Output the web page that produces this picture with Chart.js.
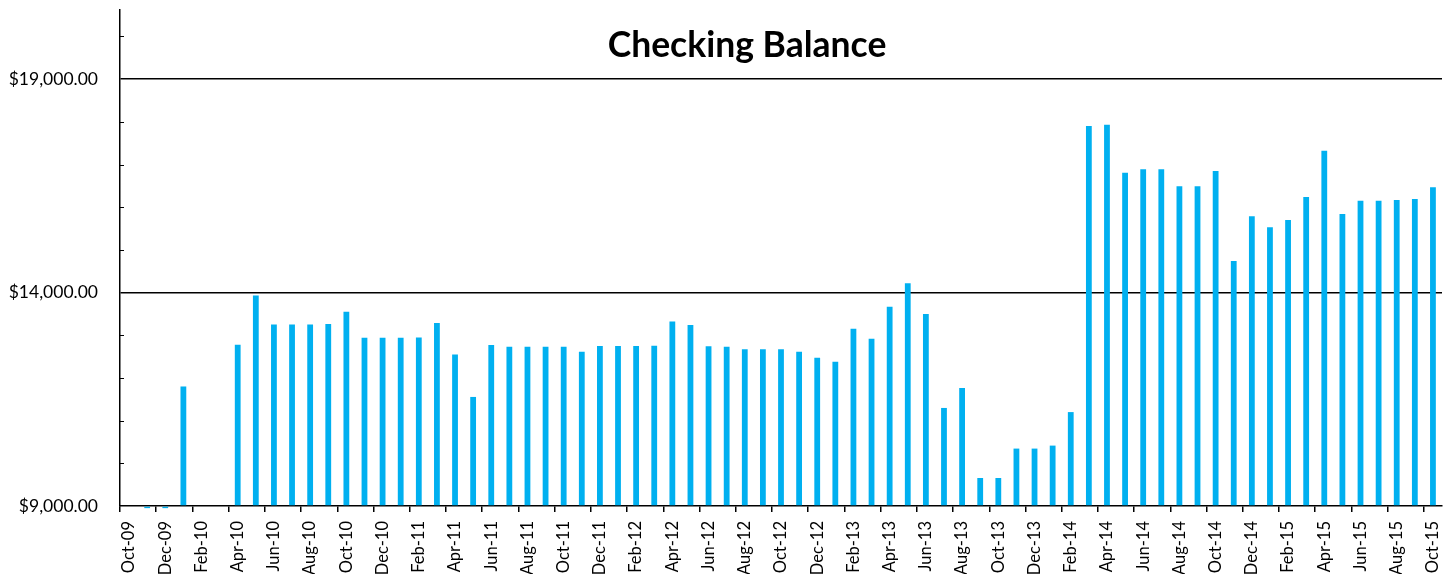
<!DOCTYPE html>
<html>
<head>
<meta charset="utf-8">
<script src="https://cdn.jsdelivr.net/npm/chart.js@4"></script>
<style>
  html, body { margin: 0; padding: 0; background: #fff; }
  #wrap { width: 1455px; height: 574px; }
</style>
</head>
<body>
<div id="wrap"><canvas id="myChart"></canvas></div>
<script>
const months = [
    'Oct-09', 'Nov-09', 'Dec-09', 'Jan-10', 'Feb-10', 'Mar-10', 'Apr-10', 'May-10', 'Jun-10', 'Jul-10', 'Aug-10', 'Sep-10',
    'Oct-10', 'Nov-10', 'Dec-10', 'Jan-11', 'Feb-11', 'Mar-11', 'Apr-11', 'May-11', 'Jun-11', 'Jul-11', 'Aug-11', 'Sep-11',
    'Oct-11', 'Nov-11', 'Dec-11', 'Jan-12', 'Feb-12', 'Mar-12', 'Apr-12', 'May-12', 'Jun-12', 'Jul-12', 'Aug-12', 'Sep-12',
    'Oct-12', 'Nov-12', 'Dec-12', 'Jan-13', 'Feb-13', 'Mar-13', 'Apr-13', 'May-13', 'Jun-13', 'Jul-13', 'Aug-13', 'Sep-13',
    'Oct-13', 'Nov-13', 'Dec-13', 'Jan-14', 'Feb-14', 'Mar-14', 'Apr-14', 'May-14', 'Jun-14', 'Jul-14', 'Aug-14', 'Sep-14',
    'Oct-14', 'Nov-14', 'Dec-14', 'Jan-15', 'Feb-15', 'Mar-15', 'Apr-15', 'May-15', 'Jun-15', 'Jul-15', 'Aug-15', 'Sep-15',
    'Oct-15'
];

const balance = [
    null, 8950, 8950, 11800, null, null, 12780, 13930, 13250, 13250, 13250, 13265,
    13550, 12940, 12940, 12940, 12950, 13290, 12550, 11555, 12770, 12730, 12730, 12730,
    12730, 12615, 12750, 12750, 12750, 12755, 13320, 13240, 12745, 12730, 12670, 12670,
    12670, 12615, 12475, 12380, 13150, 12920, 13665, 14220, 13500, 11297, 11765, 9656,
    9656, 10345, 10345, 10415, 11200, 17900, 17930, 16810, 16890, 16890, 16490, 16490,
    16850, 14740, 15790, 15530, 15700, 16240, 17320, 15840, 16150, 16150, 16170, 16195,
    16470
];

const yMin = 9000;
const yMax = 20620;
const yTicks = [9000, 10000, 11000, 12000, 13000, 14000, 15000, 16000, 17000, 18000, 19000, 20000];
const yLabelled = [9000, 14000, 19000];
const yGridLines = [14000, 19000];

const FONT = "Lato, 'Open Sans', sans-serif";

// chart title and the small inward minor ticks on the value axis
const extras = {
    id: 'extras',
    afterDraw(chart) {
        const c = chart.ctx;
        const y = chart.scales.y;
        const area = chart.chartArea;
        c.save();
        c.strokeStyle = '#000';
        c.lineWidth = 1;
        y.ticks.forEach(t => {
            if (t.value > yMin && !yGridLines.includes(t.value)) {
                const py = Math.round(y.getPixelForValue(t.value)) + 0.5;
                c.beginPath();
                c.moveTo(area.left, py);
                c.lineTo(area.left + 4, py);
                c.stroke();
            }
        });
        c.fillStyle = '#000';
        c.font = 'bold 35.5px ' + FONT;
        c.textAlign = 'center';
        c.textBaseline = 'middle';
        c.fillText('Checking Balance', 747, 46);
        c.restore();
    }
};

const ctx = document.getElementById('myChart').getContext('2d');
const chart = new Chart(ctx, {
    type: 'bar',
    data: {
        labels: months,
        datasets: [{
            label: 'Checking Balance',
            data: balance,
            backgroundColor: '#00B0F0',
            borderWidth: 0,
            base: 9000,
            barPercentage: 0.32,
            categoryPercentage: 1.0,
            clip: false
        }]
    },
    options: {
        responsive: true,
        maintainAspectRatio: false,
        animation: false,
        layout: { padding: { top: 10, right: 13, left: 0, bottom: 0 } },
        plugins: {
            legend: { display: false },
            tooltip: { enabled: false },
            title: { display: false }
        },
        scales: {
            x: {
                offset: true,
                border: { color: '#000', width: 1.5 },
                grid: {
                    offset: true,
                    drawOnChartArea: false,
                    tickLength: 6,
                    tickColor: c => (c.index % 2 === 0 ? '#000' : 'rgba(0,0,0,0)'),
                    lineWidth: 1.5
                },
                ticks: {
                    autoSkip: false,
                    minRotation: 90,
                    maxRotation: 90,
                    padding: 9,
                    color: '#000',
                    font: { family: FONT, size: 16.5 },
                    callback: function(value, index) {
                        return index % 2 === 0 ? this.getLabelForValue(value) : '';
                    }
                },
                afterFit: s => {
                    s.height = 68;
                    s.paddingLeft = 0;
                    s.paddingRight = 0;
                }
            },
            y: {
                min: yMin,
                max: yMax,
                border: { color: '#000', width: 1.5 },
                grid: {
                    drawTicks: false,
                    lineWidth: 1.5,
                    color: c => (yGridLines.includes(c.tick.value) ? '#000' : 'rgba(0,0,0,0)')
                },
                ticks: {
                    autoSkip: false,
                    padding: 22,
                    color: '#000',
                    font: { family: FONT, size: 17.5 },
                    callback: v => (yLabelled.includes(v)
                        ? '$' + v.toLocaleString('en-US', { minimumFractionDigits: 2, maximumFractionDigits: 2 })
                        : '')
                },
                afterBuildTicks: s => { s.ticks = yTicks.map(v => ({ value: v })); },
                afterFit: s => {
                    s.width = 120;
                    s.paddingTop = 0;
                    s.paddingBottom = 0;
                }
            }
        }
    },
    plugins: [extras]
});
</script>
</body>
</html>
